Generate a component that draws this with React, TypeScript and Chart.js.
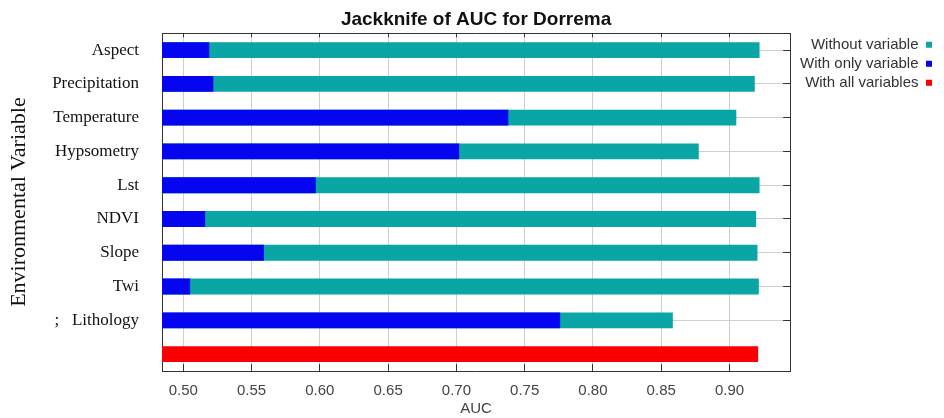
import React, { useEffect, useRef } from 'react';
import { Chart, registerables } from 'chart.js';

Chart.register(...registerables);

// Jackknife test of variable importance (AUC) for Dorrema
const variables = ['Aspect', 'Precipitation', 'Temperature', 'Hypsometry', 'Lst', 'NDVI', 'Slope', 'Twi', ';   Lithology'];
// last row holds the full model, it carries no label
const rowLabels = [...variables, ''];

const withoutVariable = [0.922, 0.9185, 0.905, 0.8775, 0.922, 0.9195, 0.9205, 0.9215, 0.8585];
const withOnlyVariable = [0.519, 0.522, 0.738, 0.702, 0.597, 0.516, 0.559, 0.505, 0.776];
const withAllVariables = 0.921;

const aucTicks = [0.5, 0.55, 0.6, 0.65, 0.7, 0.75, 0.8, 0.85, 0.9];
const aucMin = 0.4844;
const aucMax = 0.9444;

const SANS = "Arial, 'Liberation Sans', sans-serif";
const SERIF = "'Times New Roman', 'Liberation Serif', serif";
const FRAME = '#333333';
const GRID = '#cfcfcf';

const setAucTicks = (scale: any) => {
  scale.ticks = aucTicks.map((value) => ({ value }));
};

export default function App() {
  const canvasRef = useRef<HTMLCanvasElement | null>(null);

  useEffect(() => {
    if (!canvasRef.current) return;
    const lastRow = rowLabels.length - 1;
    const chart = new Chart(canvasRef.current, {
      type: 'bar',
      data: {
        labels: rowLabels,
        datasets: [
          {
            label: 'Without variable',
            data: [...withoutVariable, null],
            backgroundColor: '#0aa5a5',
            borderWidth: 0,
            grouped: false,
            order: 2,
          },
          {
            label: 'With only variable',
            data: [...withOnlyVariable, null],
            backgroundColor: '#0505f0',
            borderWidth: 0,
            grouped: false,
            order: 1,
          },
          {
            label: 'With all variables',
            data: [...variables.map(() => null), withAllVariables],
            backgroundColor: '#fa0000',
            borderWidth: 0,
            grouped: false,
            order: 0,
          },
        ],
      },
      options: {
        indexAxis: 'y',
        responsive: true,
        maintainAspectRatio: false,
        animation: false,
        events: [],
        categoryPercentage: 1,
        barPercentage: 0.47,
        layout: { padding: { right: 8 } },
        scales: {
          x: {
            type: 'linear',
            position: 'bottom',
            min: aucMin,
            max: aucMax,
            afterBuildTicks: setAucTicks,
            afterFit: (scale: any) => {
              scale.height = 47;
            },
            grid: { color: GRID, tickColor: FRAME, tickLength: -7 },
            border: { color: FRAME },
            ticks: {
              padding: 18,
              color: '#444',
              font: { family: SANS, size: 15 },
              callback: (v: any) => Number(v).toFixed(2),
            },
            title: {
              display: true,
              text: 'AUC',
              color: '#444',
              font: { family: SANS, size: 15 },
              padding: { top: 0, bottom: 0 },
            },
          },
          x2: {
            type: 'linear',
            position: 'top',
            min: aucMin,
            max: aucMax,
            afterBuildTicks: setAucTicks,
            afterFit: (scale: any) => {
              scale.height = 0;
            },
            grid: { drawOnChartArea: false, tickColor: FRAME, tickLength: -4 },
            border: { color: FRAME },
            ticks: { display: false },
          },
          y: {
            type: 'category',
            position: 'left',
            offset: true,
            afterFit: (scale: any) => {
              scale.width = 162;
            },
            grid: {
              offset: false,
              drawTicks: false,
              color: (ctx: any) => (ctx.index === lastRow ? 'rgba(0,0,0,0)' : GRID),
            },
            border: { color: FRAME },
            ticks: {
              autoSkip: false,
              padding: 23,
              color: '#111',
              font: { family: SERIF, size: 17 },
            },
            title: {
              display: true,
              text: 'Environmental Variable',
              color: '#111',
              font: { family: SERIF, size: 22 },
              padding: { top: 6, bottom: 0 },
            },
          },
          y2: {
            type: 'category',
            position: 'right',
            offset: true,
            afterFit: (scale: any) => {
              scale.width = 0;
            },
            grid: {
              offset: false,
              drawOnChartArea: false,
              tickLength: -7,
              tickColor: (ctx: any) => (ctx.index === lastRow ? 'rgba(0,0,0,0)' : FRAME),
            },
            border: { color: FRAME },
            ticks: { display: false },
          },
        },
        plugins: {
          title: {
            display: true,
            fullSize: false,
            text: 'Jackknife of AUC for Dorrema',
            color: '#111',
            font: { family: SANS, size: 19, weight: 'bold' },
            padding: { top: 7, bottom: 2 },
          },
          legend: {
            position: 'right',
            align: 'start',
            fullSize: false,
            rtl: true,
            labels: {
              boxWidth: 6,
              boxHeight: 6,
              padding: 4,
              color: '#333',
              font: { family: SANS, size: 15 },
              sort: (a: any, b: any) => a.datasetIndex - b.datasetIndex,
            },
          },
          tooltip: { enabled: false },
        },
      },
    });
    return () => chart.destroy();
  }, []);

  return (
    <div style={{ position: 'absolute', left: 0, top: 0, width: 944, height: 418, background: '#fff' }}>
      <canvas ref={canvasRef} />
    </div>
  );
}
